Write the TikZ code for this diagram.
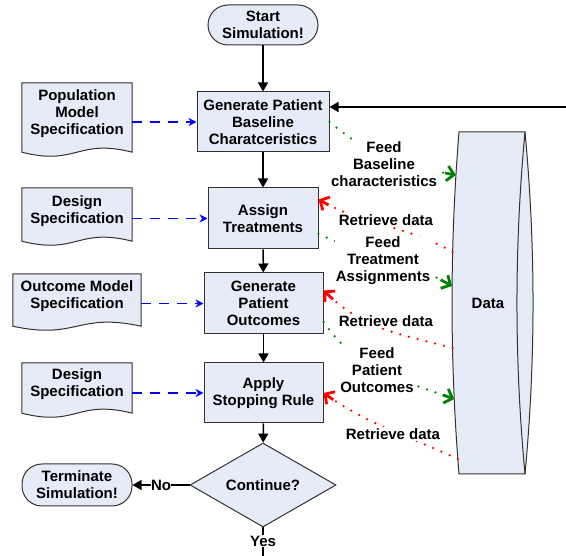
\documentclass[tikz,border=0pt]{standalone}
\usepackage{fontspec}
\setmainfont{Liberation Sans}
\usetikzlibrary{arrows.meta,shapes.geometric,calc,backgrounds}
\definecolor{boxfill}{RGB}{230,236,247}
\definecolor{boxline}{RGB}{50,50,50}
\definecolor{fgreen}{RGB}{0,128,0}
\definecolor{specblue}{RGB}{0,0,255}
\newcommand{\docoutline}[1]{%
  \path[docline] (#1.north west) -- (#1.north east) -- ($(#1.south east)+(0,7)$)
    .. controls ($(#1.south)+(0,-7)$) and ($(#1.south)+(0,21)$) .. ($(#1.south west)+(0,7)$) -- cycle;}
\begin{document}
\begin{tikzpicture}[x=1pt,y=-1pt,
  font=\fontsize{15}{17}\selectfont\bfseries,
  proc/.style={rectangle, draw=boxline, fill=boxfill, line width=1pt, align=center, inner sep=0pt},
  termbox/.style={rectangle, rounded corners=20pt, draw=boxline, fill=boxfill, line width=1pt, align=center, inner sep=0pt, minimum width=110pt},
  docbox/.style={rectangle, inner sep=0pt, align=center},
  docline/.style={draw=boxline, fill=boxfill, line width=1pt},
  flow/.style={line width=1.5pt, -{Triangle[length=9pt,width=10pt]}},
  specarrow/.style={draw=specblue, color=specblue, line width=1.5pt, dash pattern=on 10pt off 8pt, -{Stealth[length=8pt,width=8pt]}},
  feedline/.style={fgreen, line width=2.5pt, line cap=round, dash pattern=on 0pt off 9pt},
  feedtip/.style={fgreen, line width=2.8pt, -{Straight Barb[length=7pt,width=15pt]}},
  retrline/.style={red, line width=2.5pt, line cap=round, dash pattern=on 0pt off 9pt},
  retrtip/.style={red, line width=2.8pt, -{Straight Barb[length=7pt,width=15pt]}},
  lbl/.style={fill=white, inner sep=1pt, align=center}
]
\useasboundingbox (0,0) rectangle (566,556);

% main flow nodes
\node[termbox, minimum height=40pt] (start) at (263,25) {Start\\Simulation!};
\node[proc, minimum width=132pt, minimum height=60pt] (gen) at (263,122) {Generate Patient\\Baseline\\Charatceristics};
\node[proc, minimum width=110pt, minimum height=61pt] (assign) at (263,218.5) {Assign\\Treatments};
\node[proc, minimum width=119pt, minimum height=61pt] (outc) at (263.5,303.5) {Generate\\Patient\\Outcomes};
\node[proc, minimum width=119pt, minimum height=60pt] (stop) at (263.5,393) {Apply\\Stopping Rule};
\node[diamond, aspect=1.74, draw=boxline, fill=boxfill, line width=1pt, inner sep=0pt, minimum width=146pt, minimum height=84pt] (cont) at (263,485) {Continue?};
\node[termbox, minimum height=42pt] (term) at (77,485) {Terminate\\Simulation!};

% documents
\node[docbox, minimum width=110pt, minimum height=62pt] (pop) at (77,114) {Population\\Model\\Specification};
\node[docbox, minimum width=110pt, minimum height=46pt] (des1) at (77,211) {Design\\Specification};
\node[docbox, minimum width=128pt, minimum height=45pt] (outm) at (77,296.5) {Outcome Model\\Specification};
\node[docbox, minimum width=110pt, minimum height=43pt] (des2) at (77,384.5) {Design\\Specification};

% data store
\node (data) at (488,303) {Data};

\begin{scope}[on background layer]
  \docoutline{pop}
  \docoutline{des1}
  \docoutline{outm}
  \docoutline{des2}
  \path[docline] (459,132) -- (525,132) .. controls (535.7,246) and (535.7,360) .. (525,474)
     -- (459,474) .. controls (449.7,360) and (449.7,246) .. (459,132) -- cycle;
  \draw[draw=boxline, line width=1pt] (525,132) .. controls (514.3,246) and (514.3,360) .. (525,474);
\end{scope}

% points on the data store edge
\coordinate (dfeed1) at (455.9,175);
\coordinate (dret1) at (452.6,252);
\coordinate (dfeed2) at (452.1,286);
\coordinate (dret2) at (452.5,348);
\coordinate (dfeed3) at (454.2,399);
\coordinate (dret3) at (457.8,459);

% other connection points
\coordinate (loopin) at (566,107);
\coordinate (yesend) at (263,556);
\coordinate (aret) at ($(assign.north east)+(0,12)$);
\coordinate (afeed) at ($(assign.east)+(0,15.5)$);
\coordinate (oret) at ($(outc.north east)+(0,18)$);
\coordinate (ofeed) at ($(outc.east)+(0,18.5)$);

% main flow
\draw[flow] (start) -- (gen);
\draw[flow] (gen) -- (assign);
\draw[flow] (assign) -- (outc);
\draw[flow] (outc) -- (stop);
\draw[flow] (stop) -- (cont);
\draw[flow] (cont.west) -- node[lbl, inner sep=0pt] (nolbl) {No} (term.east);
\draw[line width=1.5pt] (cont.south) -- node[lbl, pos=0.48] (yeslbl) {Yes} (yesend);
\draw[flow] (loopin) -- (gen.east |- loopin);

% specification inputs
\draw[specarrow] (gen.west -| pop.east) -- (gen.west);
\draw[specarrow] (assign.west -| des1.east) -- (assign.west);
\draw[specarrow] (outc.west -| outm.east) -- (outc.west);
\draw[specarrow] (stop.west -| des2.east) -- (stop.west);

% feed / retrieve connectors
\draw[feedline] (gen.east) to[out=-40,in=170] coordinate[pos=0.93] (g1s) (dfeed1);
\draw[feedtip] (g1s) -- (dfeed1);
\draw[retrline] (dret1) to[out=150,in=-30] coordinate[pos=0.93] (r1s) (aret);
\draw[retrtip] (r1s) -- (aret);
\draw[feedline] (afeed) to[out=-25,in=150] coordinate[pos=0.92] (g2s) (dfeed2);
\draw[feedtip] (g2s) -- (dfeed2);
\draw[retrline] (dret2) to[out=165,in=-45] coordinate[pos=0.92] (r2s) (oret);
\draw[retrtip] (r2s) -- (oret);
\draw[feedline] (ofeed) to[out=-55,in=160] coordinate[pos=0.93] (g3s) (dfeed3);
\draw[feedtip] (g3s) -- (dfeed3);
\draw[retrline] (dret3) to[out=155,in=-35] coordinate[pos=0.93] (r3s) (stop.east);
\draw[retrtip] (r3s) -- (stop.east);

% labels
\node[lbl] (lf1) at (384,164) {Feed\\Baseline\\characteristics};
\node[lbl] (lr1) at (386,220) {Retrieve data};
\node[lbl] (lf2) at (383,261) {Feed\\Treatment\\Assignments};
\node[lbl] (lr2) at (386,321) {Retrieve data};
\node[lbl] (lf3) at (377,370) {Feed\\Patient\\Outcomes};
\node[lbl] (lr3) at (393,434) {Retrieve data};
\end{tikzpicture}
\end{document}
